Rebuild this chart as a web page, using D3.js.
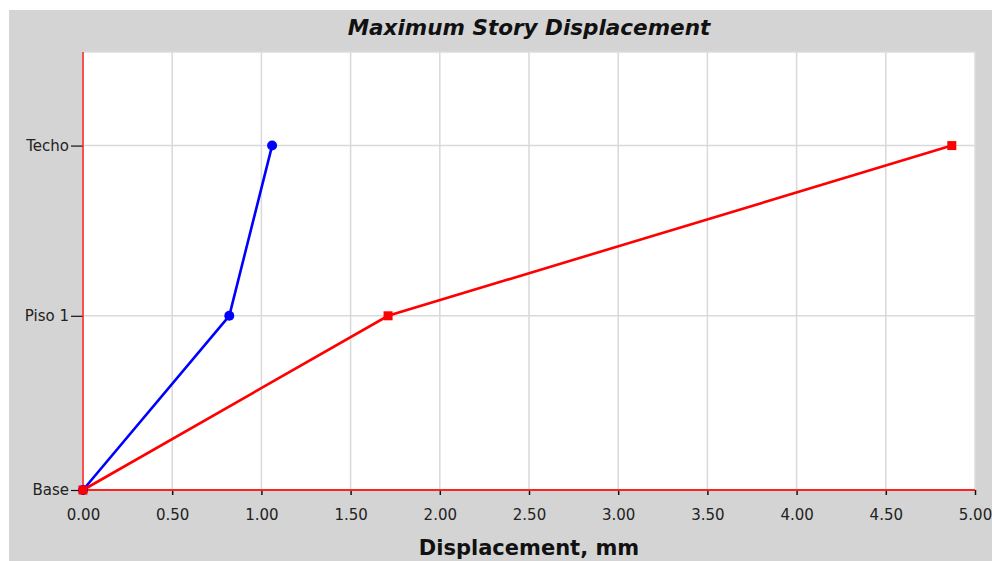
<!DOCTYPE html>
<html>
<head>
<meta charset="utf-8">
<script src="https://cdn.jsdelivr.net/npm/d3@7"></script>
<style>
  html, body { margin: 0; padding: 0; background: #ffffff; }
  svg { display: block; font-family: "DejaVu Sans", sans-serif; }
  .tick text { font-family: "DejaVu Sans", sans-serif; font-size: 15px; fill: #222; }
</style>
</head>
<body>
<svg id="chart" width="992" height="561"></svg>
<script>
// ---- data ----
const stories = ["Base", "Piso 1", "Techo"];
const storyElevation = [0, 3.5, 6.92];      // elevations (m)
const xTicks = [0, 0.5, 1, 1.5, 2, 2.5, 3, 3.5, 4, 4.5, 5];
const seriesBlue = [0, 0.82, 1.06];         // displacement, mm
const seriesRed = [0, 1.71, 4.87];          // displacement, mm
const title = "Maximum Story Displacement";
const xTitle = "Displacement, mm";

// ---- layout ----
const svg = d3.select("#chart");
const W = 992, H = 561;
const plot = { left: 83, right: 975, top: 52, bottom: 490 };

svg.append("rect").attr("x", 9).attr("y", 10).attr("width", W - 9).attr("height", H - 10).attr("fill", "#d4d4d4");
svg.append("rect").attr("x", plot.left).attr("y", plot.top)
  .attr("width", plot.right - plot.left).attr("height", plot.bottom - plot.top)
  .attr("fill", "#ffffff").attr("stroke", "#dcdcdc").attr("stroke-width", 1.5);

const x = d3.scaleLinear().domain([0, 5]).range([plot.left, plot.right]);
const y = d3.scaleLinear().domain([0, 8.8]).range([plot.bottom, plot.top]);

// grid
svg.append("g").selectAll("line").data(xTicks.slice(1, -1)).join("line")
  .attr("x1", d => x(d)).attr("x2", d => x(d))
  .attr("y1", plot.top).attr("y2", plot.bottom)
  .attr("stroke", "#d9d9d9").attr("stroke-width", 1.5);
svg.append("g").selectAll("line").data(storyElevation.slice(1)).join("line")
  .attr("x1", plot.left).attr("x2", plot.right)
  .attr("y1", d => y(d)).attr("y2", d => y(d))
  .attr("stroke", "#d9d9d9").attr("stroke-width", 1.5);

// x axis
const xAxis = d3.axisBottom(x).tickValues(xTicks).tickFormat(d3.format(".2f"))
  .tickSize(5).tickPadding(14);
const gx = svg.append("g").attr("transform", `translate(0,${plot.bottom})`).call(xAxis);
gx.attr("font-size", null).attr("font-family", null);
gx.select(".domain").remove();
gx.selectAll(".tick line").attr("stroke", "#111").attr("stroke-width", 1.5);

// y axis
const yAxis = d3.axisLeft(y).tickValues(storyElevation)
  .tickFormat((d, i) => stories[i]).tickSize(12).tickPadding(2);
const gy = svg.append("g").attr("transform", `translate(${plot.left},0)`).call(yAxis);
gy.attr("font-size", null).attr("font-family", null);
gy.select(".domain").remove();
gy.selectAll(".tick line").attr("stroke", "#111").attr("stroke-width", 1.2);

// red axis lines
svg.append("line").attr("x1", x(0)).attr("x2", x(0)).attr("y1", plot.top).attr("y2", plot.bottom)
  .attr("stroke", "#ff2020").attr("stroke-width", 1.5);
svg.append("line").attr("x1", plot.left).attr("x2", plot.right).attr("y1", y(0)).attr("y2", y(0))
  .attr("stroke", "#ff2020").attr("stroke-width", 2);

// series
const line = d3.line().x(d => x(d[0])).y(d => y(d[1]));
const blueData = seriesBlue.map((v, i) => [v, storyElevation[i]]);
const redData = seriesRed.map((v, i) => [v, storyElevation[i]]);

svg.append("path").datum(redData).attr("d", line)
  .attr("fill", "none").attr("stroke", "#ff0000").attr("stroke-width", 2.6);
svg.append("path").datum(blueData).attr("d", line)
  .attr("fill", "none").attr("stroke", "#0000ff").attr("stroke-width", 2.6);

svg.append("g").selectAll("circle").data(blueData).join("circle")
  .attr("cx", d => x(d[0])).attr("cy", d => y(d[1])).attr("r", 5).attr("fill", "#0000ff");
svg.append("g").selectAll("rect").data(redData).join("rect")
  .attr("x", d => x(d[0]) - 4.5).attr("y", d => y(d[1]) - 4.5)
  .attr("width", 9).attr("height", 9).attr("fill", "#ff0000");

// titles
svg.append("text").attr("x", (plot.left + plot.right) / 2).attr("y", 35)
  .attr("text-anchor", "middle").style("font-size", "21.5px").attr("font-weight", "bold")
  .attr("font-style", "italic").attr("fill", "#111").text(title);
svg.append("text").attr("x", (plot.left + plot.right) / 2).attr("y", 555)
  .attr("text-anchor", "middle").style("font-size", "21px").attr("font-weight", "bold")
  .attr("fill", "#111").text(xTitle);
</script>
</body>
</html>
